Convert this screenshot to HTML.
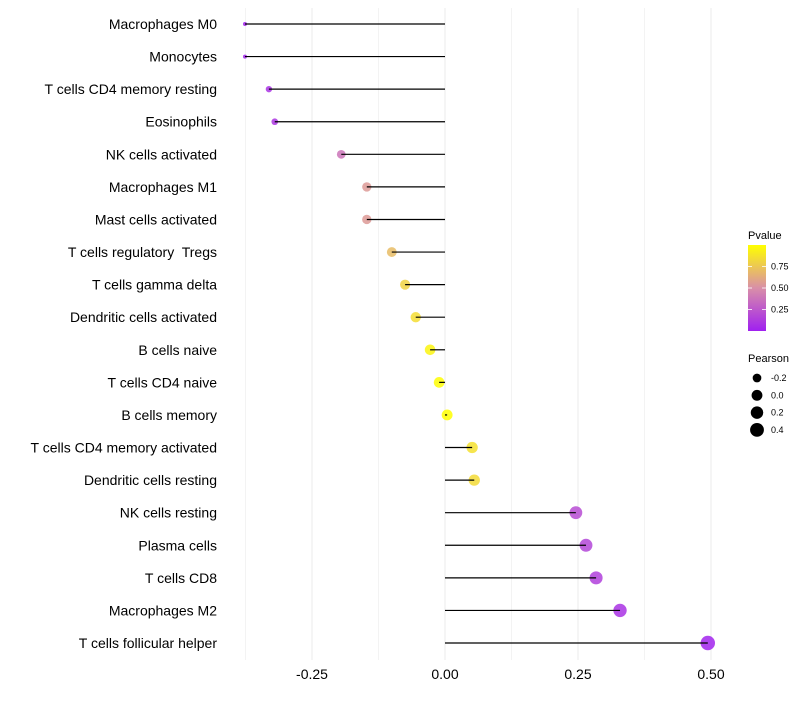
<!DOCTYPE html>
<html><head><meta charset="utf-8"><style>
body{margin:0;background:#fff;font-family:"Liberation Sans",sans-serif}
text{white-space:pre}
</style></head><body>
<svg id="chart" width="800" height="700" xmlns="http://www.w3.org/2000/svg" font-family="Liberation Sans, sans-serif"></svg>
<script>
const categories=["Macrophages M0","Monocytes","T cells CD4 memory resting","Eosinophils","NK cells activated","Macrophages M1","Mast cells activated","T cells regulatory  Tregs","T cells gamma delta","Dendritic cells activated","B cells naive","T cells CD4 naive","B cells memory","T cells CD4 memory activated","Dendritic cells resting","NK cells resting","Plasma cells","T cells CD8","Macrophages M2","T cells follicular helper"];
const pearson=[-0.376,-0.376,-0.331,-0.32,-0.195,-0.147,-0.147,-0.10,-0.075,-0.055,-0.028,-0.011,0.004,0.051,0.055,0.246,0.265,0.284,0.329,0.494];
const pvalue=[0.02,0.02,0.08,0.1,0.38,0.55,0.55,0.7,0.8,0.85,0.95,0.99,1.0,0.86,0.84,0.2,0.17,0.14,0.08,0.02];
const xTicks=[-0.25,0,0.25,0.5];
const xTickLabels=["-0.25","0.00","0.25","0.50"];
const colorTicks=[0.25,0.5,0.75];
const sizeLegend=[-0.2,0.0,0.2,0.4];

const svg=document.getElementById('chart');
const NS='http://www.w3.org/2000/svg';
function mk(t,a,p){const e=document.createElementNS(NS,t);for(const k in a)e.setAttribute(k,a[k]);(p||svg).appendChild(e);return e;}
const x=v=>445+v*532;
const y=i=>24+i*(643-24)/19;
const r=v=>2+5.2*Math.sqrt(Math.max(0,(v+0.376)/0.87));
function lerp(a,b,t){return Math.round(a+(b-a)*t);}
function col(p){
  const stops=[[0,[160,32,240]],[0.5,[217,143,168]],[1,[255,255,0]]];
  let i=p<=0.5?0:1;const s0=stops[i],s1=stops[i+1];const t=(p-s0[0])/(s1[0]-s0[0]);
  return `rgb(${lerp(s0[1][0],s1[1][0],t)},${lerp(s0[1][1],s1[1][1],t)},${lerp(s0[1][2],s1[1][2],t)})`;
}
for(let v=-0.375;v<=0.5001;v+=0.125){
  const g=mk('line',{x1:x(v),x2:x(v),y1:8,y2:660,stroke:'#ebebeb','stroke-width':Math.abs((v/0.25)%1)<1e-6?1:0.6});
  
  
}
xTicks.forEach((v,i)=>{
  const t=mk('text',{x:x(v),y:679,'text-anchor':'middle','font-size':14,fill:'#000'});
  t.textContent=xTickLabels[i];
  
  
});
categories.forEach((c,i)=>{
  const t=mk('text',{x:217,y:y(i)+5,'text-anchor':'end','font-size':14,fill:'#000'});
  t.textContent=c;
  
  
  const pt=mk('circle',{cx:x(pearson[i]),cy:y(i),r:r(pearson[i]),fill:col(pvalue[i]),opacity:0.85});
  
  
  const l=mk('line',{x1:x(0),x2:x(pearson[i]),y1:y(i),y2:y(i),stroke:'#000','stroke-width':1.2});
  
  
});
const lt=mk('text',{x:748,y:239,'font-size':11});lt.textContent='Pvalue';


const defs=mk('defs',{});
const gr=mk('linearGradient',{id:'pg',x1:0,y1:1,x2:0,y2:0},defs);
[0,0.5,1].forEach(o=>mk('stop',{offset:o,'stop-color':col(o)},gr));
const cb=mk('rect',{x:748,y:245,width:18,height:86,fill:'url(#pg)'});


const cy=p=>331-p*86;
colorTicks.forEach(p=>{
  mk('line',{x1:748,x2:752,y1:cy(p),y2:cy(p),stroke:'#fff','stroke-width':0.8});
  mk('line',{x1:762,x2:766,y1:cy(p),y2:cy(p),stroke:'#fff','stroke-width':0.8});
  const t=mk('text',{x:771,y:cy(p)+3,'font-size':9});t.textContent=p.toFixed(2);
  
  
});
const st=mk('text',{x:748,y:362,'font-size':11});st.textContent='Pearson';


sizeLegend.forEach((v,i)=>{
  const yy=378+i*17.3;
  const c=mk('circle',{cx:757,cy:yy,r:r(v),fill:'#000'});
  
  
  const t=mk('text',{x:771,y:yy+3,'font-size':9});t.textContent=v.toFixed(1);
  
  
});
</script>
</body></html>
